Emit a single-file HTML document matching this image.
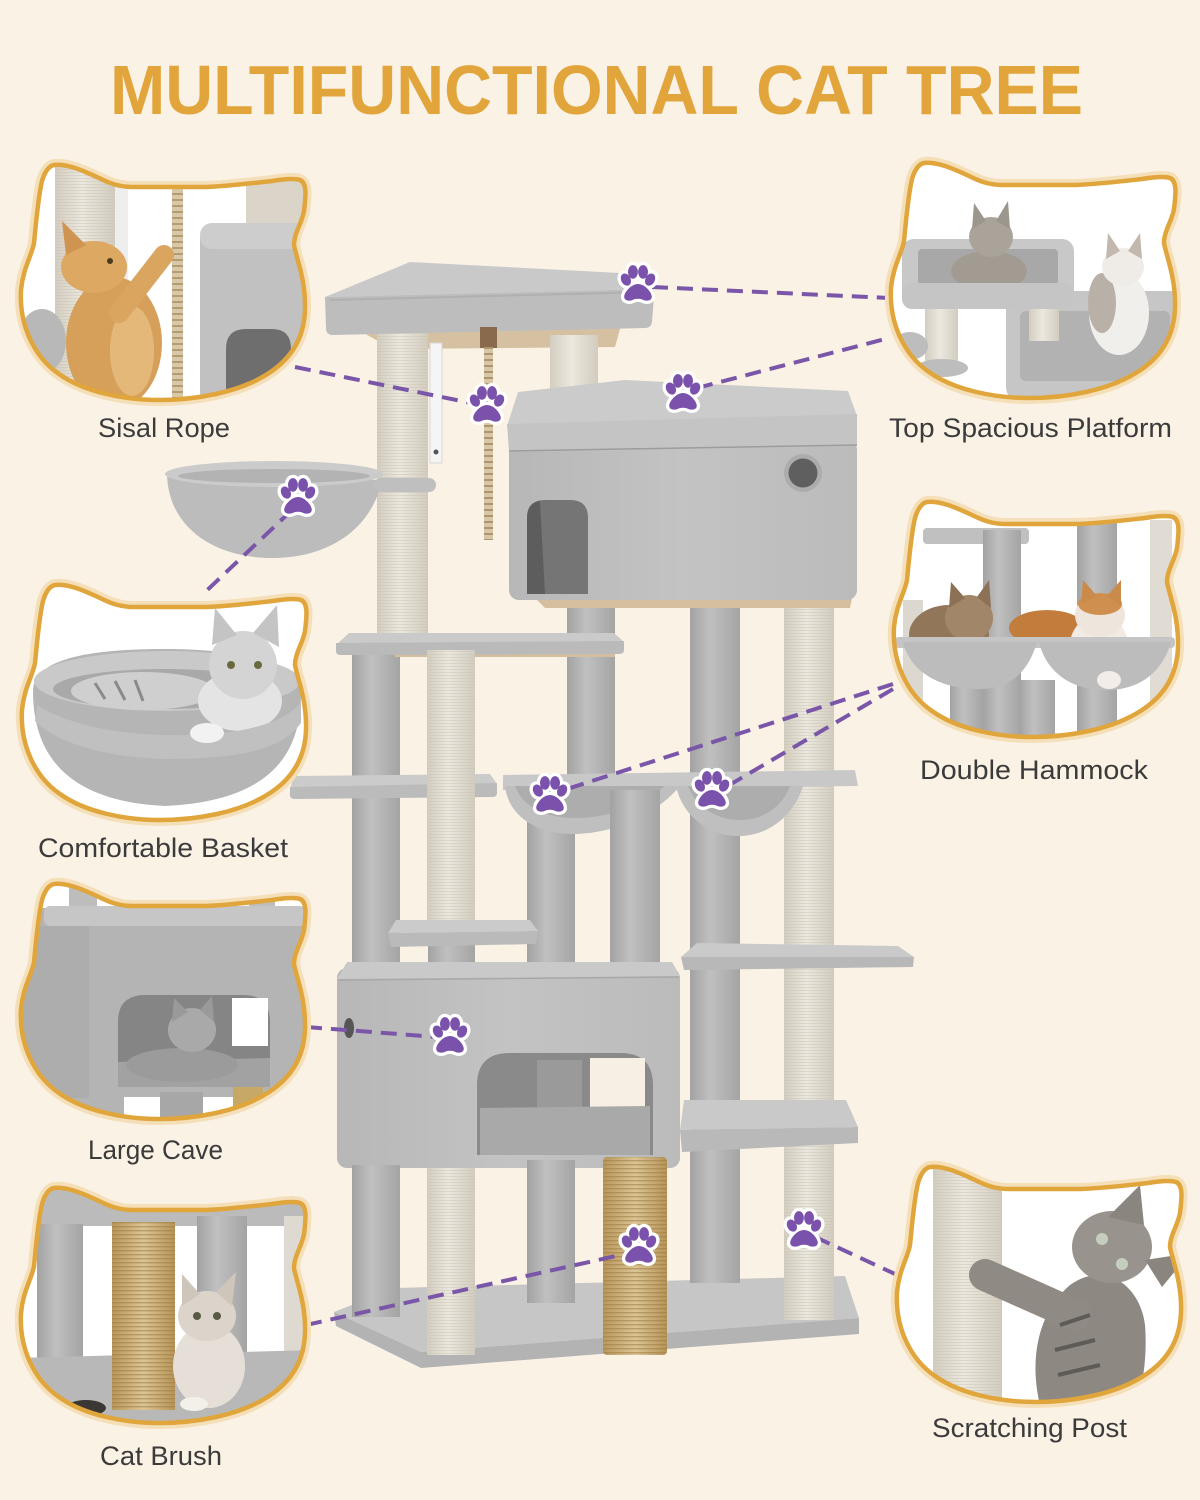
<!DOCTYPE html>
<html>
<head>
<meta charset="utf-8">
<style>
  html, body { margin:0; padding:0; background:#fbf2e6; }
  svg { display:block; }
</style>
</head>
<body>
<svg width="1200" height="1500" viewBox="0 0 1200 1500" xmlns="http://www.w3.org/2000/svg">
<defs>
  <linearGradient id="gp" x1="0" y1="0" x2="1" y2="0">
    <stop offset="0" stop-color="#a2a2a2"/>
    <stop offset="0.4" stop-color="#c0c0c0"/>
    <stop offset="1" stop-color="#a4a4a4"/>
  </linearGradient>
  <linearGradient id="sp" x1="0" y1="0" x2="1" y2="0">
    <stop offset="0" stop-color="#d3cdc0"/>
    <stop offset="0.45" stop-color="#ece8df"/>
    <stop offset="1" stop-color="#d2ccbf"/>
  </linearGradient>
  <linearGradient id="bg" x1="0" y1="0" x2="1" y2="0">
    <stop offset="0" stop-color="#b8975a"/>
    <stop offset="0.5" stop-color="#dcc596"/>
    <stop offset="1" stop-color="#b69458"/>
  </linearGradient>
  <linearGradient id="cb" x1="0" y1="0" x2="1" y2="0">
    <stop offset="0" stop-color="#b7b7b7"/>
    <stop offset="0.5" stop-color="#c3c3c3"/>
    <stop offset="1" stop-color="#bbbbbb"/>
  </linearGradient>
  <pattern id="sis" width="6" height="3" patternUnits="userSpaceOnUse">
    <rect width="6" height="1" fill="#c9c1b1" opacity="0.45"/>
  </pattern>
  <pattern id="spk" width="6" height="4" patternUnits="userSpaceOnUse">
    <rect width="6" height="1.4" fill="#9c7c42" opacity="0.55"/>
  </pattern>

  <path id="hp" d="M40,2 C52,0 70,8 85,15 C95,20 105,24 118,24 L192,24 C215,23 240,20 258,18 C270,16 280,15 286,17 C293,20 292,32 290,48 C288,60 280,70 280,82 C282,94 292,117 291,147 C290,177 275,197 255,210 C225,230 180,237 145,237 C110,237 70,229 45,211 C20,194 5,162 7,127 C9,105 18,92 20,80 C22,60 24,35 28,18 C31,8 35,3 40,2 Z"/>
  <clipPath id="hc"><use href="#hp"/></clipPath>

  <g id="pawshape">
    <ellipse cx="-11" cy="-4" rx="4.3" ry="5.8" transform="rotate(-28 -11 -4)"/>
    <ellipse cx="-4.6" cy="-11" rx="4.5" ry="6.2"/>
    <ellipse cx="4.6" cy="-11" rx="4.5" ry="6.2"/>
    <ellipse cx="11" cy="-4" rx="4.3" ry="5.8" transform="rotate(28 11 -4)"/>
    <path d="M0,0 C6,0 12,7 12.5,11 C13,15 8,16 5,14.5 C2,13 -2,13 -5,14.5 C-8,16 -13,15 -12.5,11 C-12,7 -6,0 0,0 Z"/>
  </g>
  <g id="paw">
    <use href="#pawshape" fill="#ffffff" stroke="#ffffff" stroke-width="6" stroke-linejoin="round"/>
    <use href="#pawshape" fill="#7b52ab"/>
  </g>
</defs>

<rect width="1200" height="1500" fill="#fbf2e6"/>

<!-- TITLE -->
<text x="110" y="114" font-family="'Liberation Sans', sans-serif" font-weight="bold" font-size="70" fill="#e1a53b" textLength="973" lengthAdjust="spacingAndGlyphs">MULTIFUNCTIONAL CAT TREE</text>

<!-- ===== CAT TREE ===== -->
<polygon points="334,1312 395,1288 845,1276 859,1318 421,1352" fill="#c6c6c6"/>
<polygon points="334,1312 421,1352 859,1318 859,1334 421,1368 336,1326" fill="#b3b3b3"/>

<rect x="690" y="600" width="50" height="683" fill="url(#gp)"/>
<rect x="784" y="600" width="50" height="720" fill="url(#sp)"/>
<rect x="784" y="600" width="50" height="720" fill="url(#sis)"/>
<rect x="567" y="600" width="48" height="185" fill="url(#gp)"/>

<polygon points="355,328 622,322 615,347 392,349" fill="#d5c1a2"/>
<rect x="550" y="335" width="48" height="75" fill="url(#sp)"/>
<rect x="377" y="330" width="51" height="310" fill="url(#sp)"/>
<rect x="377" y="330" width="51" height="310" fill="url(#sis)"/>
<polygon points="410,262 620,273 652,289 325,297" fill="#c9c9c9"/>
<path d="M325,297 L652,289 Q655,290 654,296 L652,322 Q651,328 645,328 L333,335 Q326,335 326,328 Z" fill="#bdbdbd"/>
<path d="M330,300 L650,292" stroke="#b0b0b0" stroke-width="2" fill="none"/>

<rect x="430" y="343" width="12" height="120" fill="#f5f5f5" stroke="#d6d6d6" stroke-width="1"/>
<circle cx="436" cy="452" r="2.5" fill="#555"/>
<rect x="480" y="327" width="17" height="21" fill="#8a6a4c"/>
<rect x="484" y="347" width="9" height="193" fill="#d7c7a6"/>
<line x1="488.5" y1="347" x2="488.5" y2="540" stroke="#ad9570" stroke-width="9" stroke-dasharray="2 4"/>

<polygon points="535,598 852,598 850,608 545,608" fill="#d4bf9f"/>
<rect x="509" y="440" width="348" height="160" rx="10" fill="url(#cb)"/>
<polygon points="518,392 625,380 848,391 857,416 507,426" fill="#cbcbcb"/>
<path d="M507,424 L857,414 L857,446 L509,452 Z" fill="#c4c4c4"/>
<path d="M509,451 L857,445" stroke="#9c9c9c" stroke-width="1.5" fill="none"/>
<path d="M527,594 L527,518 Q527,500 545,500 L570,500 Q588,500 588,518 L588,594 Z" fill="#757575"/>
<path d="M527,594 L527,518 Q527,503 540,501 L545,594 Z" fill="#5d5d5d"/>
<circle cx="803" cy="473" r="19" fill="#acacac"/>
<circle cx="803" cy="473" r="14.5" fill="#5f5f5f"/>

<path d="M167,474 C168,528 215,558 272,558 C330,558 372,528 382,480 Z" fill="#bcbcbc"/>
<ellipse cx="274" cy="474" rx="109" ry="13" fill="#cbcbcb"/>
<ellipse cx="274" cy="476" rx="96" ry="7" fill="#b3b3b3"/>
<rect x="374" y="478" width="62" height="14" rx="7" fill="#bfbfbf"/>

<rect x="352" y="650" width="48" height="315" fill="url(#gp)"/>

<rect x="395" y="652" width="220" height="5" fill="#d3bf9f"/>
<polygon points="349,633 614,633 624,642 336,645" fill="#cacaca"/>
<path d="M336,643 L624,641 L624,650 Q624,654 619,654 L341,655 Q336,655 336,651 Z" fill="#bababa"/>

<rect x="527" y="800" width="48" height="162" fill="url(#gp)"/>

<polygon points="294,776 490,774 497,784 290,789" fill="#cbcbcb"/>
<path d="M290,787 L497,783 L497,793 Q497,797 492,797 L295,799 Q289,799 290,793 Z" fill="#bbbbbb"/>
<polygon points="503,775 855,770 858,786 503,790" fill="#c8c8c8"/>
<path d="M505,786 C508,815 535,834 572,834 C620,834 660,810 680,786 Z" fill="#bfbfbf"/>
<path d="M515,786 C522,806 545,818 575,818 C615,818 645,802 665,786 Z" fill="#adadad"/>
<path d="M676,786 C682,815 708,836 738,836 C772,836 795,812 803,786 Z" fill="#bfbfbf"/>
<path d="M688,786 C695,805 715,820 740,820 C765,820 783,805 790,786 Z" fill="#adadad"/>

<rect x="427" y="650" width="48" height="275" fill="url(#sp)"/>
<rect x="427" y="650" width="48" height="275" fill="url(#sis)"/>
<rect x="610" y="790" width="50" height="175" fill="url(#gp)"/>

<polygon points="697,943 898,946 914,957 681,957" fill="#cacaca"/>
<polygon points="681,957 914,957 913,967 684,970" fill="#b8b8b8"/>

<rect x="428" y="944" width="47" height="26" fill="url(#gp)"/>
<polygon points="396,920 530,920 538,931 388,933" fill="#cbcbcb"/>
<polygon points="388,933 538,931 536,944 391,947" fill="#bababa"/>

<rect x="337" y="968" width="343" height="200" rx="10" fill="url(#cb)"/>
<polygon points="347,962 672,962 680,976 337,979" fill="#c9c9c9"/>
<path d="M338,980 L679,977" stroke="#a8a8a8" stroke-width="1.5"/>
<path d="M477,1155 L477,1085 Q477,1053 510,1053 L620,1053 Q653,1053 653,1085 L653,1155 Z" fill="#8a8a8a"/>
<rect x="590" y="1058" width="55" height="50" fill="#f7efe3"/>
<rect x="537" y="1060" width="45" height="48" fill="#9a9a9a"/>
<polygon points="480,1108 650,1106 650,1155 480,1155" fill="#a9a9a9"/>
<ellipse cx="349" cy="1028" rx="5" ry="10" fill="#555"/>

<polygon points="684,1100 846,1100 858,1127 680,1130" fill="#c9c9c9"/>
<polygon points="680,1130 858,1127 858,1143 682,1152" fill="#b9b9b9"/>

<rect x="352" y="1165" width="48" height="152" fill="url(#gp)"/>
<rect x="527" y="1160" width="48" height="143" fill="url(#gp)"/>
<rect x="427" y="1168" width="48" height="187" fill="url(#sp)"/>
<rect x="427" y="1168" width="48" height="187" fill="url(#sis)"/>
<rect x="603" y="1157" width="64" height="198" rx="4" fill="url(#bg)"/>
<rect x="603" y="1157" width="64" height="198" rx="4" fill="url(#spk)"/>

<!-- ===== DASHED LINES ===== -->
<g stroke="#7a56a8" stroke-width="4" stroke-dasharray="16 9" fill="none">
  <line x1="652" y1="287" x2="889" y2="298"/>
  <line x1="697" y1="388" x2="889" y2="338"/>
  <line x1="295" y1="367" x2="471" y2="403"/>
  <line x1="292" y1="510" x2="202" y2="595"/>
  <line x1="893" y1="684" x2="564" y2="790"/>
  <line x1="893" y1="689" x2="726" y2="787"/>
  <line x1="306" y1="1027" x2="437" y2="1037"/>
  <line x1="306" y1="1325" x2="625" y2="1254"/>
  <line x1="815" y1="1237" x2="895" y2="1274"/>
</g>

<use href="#paw" transform="translate(638,284) scale(1.1)"/>
<use href="#paw" transform="translate(683,393) scale(1.1)"/>
<use href="#paw" transform="translate(487,405) scale(1.1)"/>
<use href="#paw" transform="translate(298,497) scale(1.1)"/>
<use href="#paw" transform="translate(550,795) scale(1.1)"/>
<use href="#paw" transform="translate(712,790) scale(1.1)"/>
<use href="#paw" transform="translate(450,1036) scale(1.1)"/>
<use href="#paw" transform="translate(639,1246) scale(1.1)"/>
<use href="#paw" transform="translate(804,1230) scale(1.1)"/>

<!-- ===== FRAMES ===== -->
<g transform="translate(14,163)">
  <use href="#hp" fill="none" stroke="#f4dfb9" stroke-width="12"/>
  <use href="#hp" fill="#ffffff"/>
  <g clip-path="url(#hc)">
    <rect x="41" y="0" width="60" height="240" fill="url(#sp)"/>
    <rect x="41" y="0" width="60" height="240" fill="url(#sis)"/>
    <rect x="101" y="0" width="13" height="240" fill="#eeeeee"/>
    <rect x="158" y="18" width="11" height="222" fill="#d8c8a8"/>
    <line x1="163.5" y1="18" x2="163.5" y2="240" stroke="#b39b72" stroke-width="11" stroke-dasharray="2 4"/>
    <rect x="232" y="15" width="58" height="55" fill="#dbd5c9"/>
    <rect x="186" y="60" width="115" height="185" rx="16" fill="#c1c1c1"/>
    <rect x="186" y="60" width="115" height="26" rx="12" fill="#cdcdcd"/>
    <path d="M212,240 L212,186 Q212,166 232,166 L258,166 Q277,166 277,186 L277,240 Z" fill="#6e6e6e"/>
    <ellipse cx="28" cy="178" rx="24" ry="32" fill="#b8b8b8"/>
    <ellipse cx="100" cy="180" rx="48" ry="66" fill="#d6a05a"/>
    <ellipse cx="118" cy="188" rx="22" ry="45" fill="#e4b878"/>
    <path d="M105,150 L150,92" stroke="#d9a55f" stroke-width="20" stroke-linecap="round"/>
    <ellipse cx="80" cy="104" rx="33" ry="26" fill="#dca862"/>
    <polygon points="52,92 48,58 72,82" fill="#cf9550"/>
    <circle cx="96" cy="98" r="3" fill="#4a3a20"/>
  </g>
  <use href="#hp" fill="none" stroke="#e0a53b" stroke-width="4.5"/>
</g>

<g transform="translate(884,161)">
  <use href="#hp" fill="none" stroke="#f4dfb9" stroke-width="12"/>
  <use href="#hp" fill="#ffffff"/>
  <g clip-path="url(#hc)">
    <rect x="133" y="116" width="7" height="124" fill="#d9cbb0"/>
    <rect x="122" y="130" width="180" height="112" rx="16" fill="#c6c6c6"/>
    <rect x="136" y="150" width="150" height="70" rx="6" fill="#b2b2b2"/>
    <ellipse cx="235" cy="152" rx="30" ry="42" fill="#f1efec"/>
    <ellipse cx="218" cy="142" rx="14" ry="30" fill="#b9b1a8"/>
    <ellipse cx="239" cy="106" rx="21" ry="19" fill="#efece8"/>
    <polygon points="222,98 224,72 236,90" fill="#c2b8ad"/>
    <polygon points="244,90 256,72 258,98" fill="#c2b8ad"/>
    <rect x="41" y="140" width="33" height="70" fill="url(#sp)"/>
    <rect x="145" y="140" width="30" height="40" fill="url(#sp)"/>
    <ellipse cx="58" cy="207" rx="26" ry="9" fill="#bdbdbd"/>
    <ellipse cx="26" cy="185" rx="18" ry="14" fill="#bdbdbd"/>
    <rect x="18" y="78" width="172" height="70" rx="12" fill="#c8c8c8"/>
    <rect x="34" y="88" width="140" height="36" rx="4" fill="#a8a8a8"/>
    <ellipse cx="105" cy="110" rx="38" ry="20" fill="#a29b92"/>
    <ellipse cx="107" cy="76" rx="22" ry="20" fill="#aaa39a"/>
    <polygon points="88,68 90,42 102,60" fill="#9d968d"/>
    <polygon points="112,60 124,40 126,68" fill="#9d968d"/>
    <rect x="18" y="122" width="172" height="26" rx="10" fill="#c5c5c5"/>
  </g>
  <use href="#hp" fill="none" stroke="#e0a53b" stroke-width="4.5"/>
</g>

<g transform="translate(15,583)">
  <use href="#hp" fill="none" stroke="#f4dfb9" stroke-width="12"/>
  <use href="#hp" fill="#ffffff"/>
  <g clip-path="url(#hc)">
    <path d="M18,108 C18,72 90,66 150,66 C215,66 286,76 286,110 C286,165 262,218 150,223 C45,218 18,165 18,108 Z" fill="#b5b5b5"/>
    <ellipse cx="152" cy="98" rx="133" ry="30" fill="#c9c9c9"/>
    <ellipse cx="150" cy="106" rx="112" ry="20" fill="#a9a9a9"/>
    <ellipse cx="128" cy="108" rx="72" ry="19" fill="#cfcfcf"/>
    <path d="M80,100 L90,116 M100,98 L110,117 M120,97 L128,118" stroke="#8a8a8a" stroke-width="3"/>
    <ellipse cx="225" cy="118" rx="42" ry="30" fill="#e4e4e4"/>
    <ellipse cx="228" cy="82" rx="34" ry="34" fill="#d4d4d4"/>
    <polygon points="197,62 200,25 222,52" fill="#c4c4c4"/>
    <polygon points="238,50 262,22 264,64" fill="#c4c4c4"/>
    <circle cx="216" cy="82" r="4" fill="#6a6a40"/>
    <circle cx="243" cy="82" r="4" fill="#6a6a40"/>
    <path d="M22,122 C60,146 120,154 180,152 C230,150 268,140 286,120 L286,140 C266,168 220,176 150,176 C80,174 38,156 20,138 Z" fill="#c0c0c0"/>
    <ellipse cx="192" cy="150" rx="17" ry="10" fill="#f2f2f2"/>
  </g>
  <use href="#hp" fill="none" stroke="#e0a53b" stroke-width="4.5"/>
</g>

<g transform="translate(887,500)">
  <use href="#hp" fill="none" stroke="#f4dfb9" stroke-width="12"/>
  <use href="#hp" fill="#ffffff"/>
  <g clip-path="url(#hc)">
    <rect x="36" y="28" width="106" height="16" rx="4" fill="#c0c0c0"/>
    <rect x="16" y="100" width="20" height="100" fill="#dcd8d0"/>
    <rect x="96" y="30" width="38" height="215" fill="url(#gp)"/>
    <rect x="190" y="20" width="40" height="225" fill="url(#gp)"/>
    <rect x="263" y="20" width="22" height="200" fill="#e0dcd3"/>
    <rect x="63" y="180" width="33" height="65" fill="url(#gp)"/>
    <rect x="132" y="180" width="36" height="65" fill="url(#gp)"/>
    <ellipse cx="62" cy="135" rx="40" ry="30" fill="#927659"/>
    <ellipse cx="82" cy="118" rx="24" ry="23" fill="#a1866a"/>
    <polygon points="62,108 64,82 78,98" fill="#8d7155"/>
    <polygon points="90,97 102,80 104,108" fill="#8d7155"/>
    <ellipse cx="160" cy="128" rx="38" ry="18" fill="#c27d3c"/>
    <ellipse cx="212" cy="150" rx="30" ry="36" fill="#f1ebe4"/>
    <ellipse cx="213" cy="115" rx="25" ry="22" fill="#eee6dc"/>
    <ellipse cx="213" cy="104" rx="22" ry="11" fill="#cf8f4e"/>
    <polygon points="194,104 196,80 210,96" fill="#c98a4a"/>
    <polygon points="220,96 234,80 234,106" fill="#c98a4a"/>
    <rect x="8" y="137" width="280" height="11" rx="4" fill="#c5c5c5"/>
    <path d="M16,142 C24,176 60,190 95,189 C125,188 142,170 150,142 Z" fill="#bcbcbc"/>
    <path d="M152,142 C160,176 190,192 224,190 C256,188 276,170 284,142 Z" fill="#bcbcbc"/>
    <ellipse cx="222" cy="180" rx="12" ry="9" fill="#f2ede8"/>
  </g>
  <use href="#hp" fill="none" stroke="#e0a53b" stroke-width="4.5"/>
</g>

<g transform="translate(14,882)">
  <use href="#hp" fill="none" stroke="#f4dfb9" stroke-width="12"/>
  <use href="#hp" fill="#ffffff"/>
  <g clip-path="url(#hc)">
    <rect x="0" y="0" width="300" height="240" fill="#b4b4b4"/>
    <rect x="0" y="0" width="300" height="26" fill="#ffffff"/>
    <rect x="55" y="0" width="28" height="28" fill="#bdbdbd"/>
    <rect x="235" y="0" width="26" height="28" fill="#bdbdbd"/>
    <rect x="30" y="24" width="262" height="20" rx="6" fill="#c6c6c6"/>
    <rect x="0" y="44" width="75" height="172" fill="#adadad"/>
    <path d="M104,205 L104,140 Q104,113 131,113 L229,113 Q256,113 256,140 L256,205 Z" fill="#858585"/>
    <polygon points="104,180 256,176 256,205 104,205" fill="#a2a2a2"/>
    <rect x="218" y="116" width="36" height="48" fill="#ffffff"/>
    <ellipse cx="168" cy="183" rx="56" ry="17" fill="#9b9b9b"/>
    <ellipse cx="178" cy="148" rx="24" ry="22" fill="#a9a9a9"/>
    <polygon points="158,140 160,116 174,130" fill="#9a9a9a"/>
    <polygon points="186,128 198,114 200,140" fill="#9a9a9a"/>
    <rect x="110" y="215" width="190" height="30" fill="#ffffff"/>
    <rect x="146" y="210" width="43" height="32" fill="#a7a7a7"/>
    <rect x="219" y="205" width="30" height="37" fill="#c8a866"/>
  </g>
  <use href="#hp" fill="none" stroke="#e0a53b" stroke-width="4.5"/>
</g>

<g transform="translate(14,1186)">
  <use href="#hp" fill="none" stroke="#f4dfb9" stroke-width="12"/>
  <use href="#hp" fill="#ffffff"/>
  <g clip-path="url(#hc)">
    <rect x="0" y="0" width="300" height="40" fill="#bbbbbb"/>
    <rect x="23" y="38" width="46" height="140" fill="url(#gp)"/>
    <rect x="183" y="30" width="50" height="150" fill="url(#gp)"/>
    <rect x="270" y="30" width="30" height="150" fill="#dedad1"/>
    <path d="M0,172 L300,164 L300,245 L0,245 Z" fill="#b8b8b8"/>
    <rect x="98" y="36" width="63" height="188" fill="url(#bg)"/>
    <rect x="98" y="36" width="63" height="188" fill="url(#spk)"/>
    <ellipse cx="195" cy="180" rx="36" ry="42" fill="#e5dfd7"/>
    <ellipse cx="193" cy="130" rx="29" ry="25" fill="#dcd4ca"/>
    <polygon points="168,120 168,88 186,108" fill="#cfc6bb"/>
    <polygon points="202,106 222,86 218,120" fill="#cfc6bb"/>
    <circle cx="183" cy="130" r="4" fill="#5a5a44"/>
    <circle cx="203" cy="130" r="4" fill="#5a5a44"/>
    <ellipse cx="72" cy="222" rx="20" ry="8" fill="#3a3734"/>
    <ellipse cx="180" cy="218" rx="14" ry="7" fill="#f3efe9"/>
  </g>
  <use href="#hp" fill="none" stroke="#e0a53b" stroke-width="4.5"/>
</g>

<g transform="translate(890,1165)">
  <use href="#hp" fill="none" stroke="#f4dfb9" stroke-width="12"/>
  <use href="#hp" fill="#ffffff"/>
  <g clip-path="url(#hc)">
    <rect x="43" y="0" width="69" height="240" fill="url(#sp)"/>
    <rect x="43" y="0" width="69" height="240" fill="url(#sis)"/>
    <path d="M150,240 C140,200 145,150 180,120 C215,95 250,120 255,160 C258,200 250,230 245,240 Z" fill="#8d8882"/>
    <path d="M95,110 L185,150" stroke="#8f8a84" stroke-width="32" stroke-linecap="round"/>
    <ellipse cx="222" cy="82" rx="40" ry="36" fill="#98938d"/>
    <polygon points="218,52 250,20 254,60" fill="#8a857f"/>
    <polygon points="255,95 300,88 272,122" fill="#8a857f"/>
    <circle cx="212" cy="74" r="6" fill="#c5cdbd"/>
    <circle cx="232" cy="99" r="6" fill="#c5cdbd"/>
    <path d="M170,160 L200,150 M165,185 L205,175 M168,210 L210,200" stroke="#5e5a55" stroke-width="4"/>
  </g>
  <use href="#hp" fill="none" stroke="#e0a53b" stroke-width="4.5"/>
</g>

<!-- LABELS -->
<g font-family="'Liberation Sans', sans-serif" font-size="27" fill="#3b3b3b">
  <text x="98" y="437" textLength="132" lengthAdjust="spacingAndGlyphs">Sisal Rope</text>
  <text x="889" y="437" textLength="283" lengthAdjust="spacingAndGlyphs">Top Spacious Platform</text>
  <text x="38" y="857" textLength="250" lengthAdjust="spacingAndGlyphs">Comfortable Basket</text>
  <text x="920" y="779" textLength="228" lengthAdjust="spacingAndGlyphs">Double Hammock</text>
  <text x="88" y="1159" textLength="135" lengthAdjust="spacingAndGlyphs">Large Cave</text>
  <text x="100" y="1465" textLength="122" lengthAdjust="spacingAndGlyphs">Cat Brush</text>
  <text x="932" y="1437" textLength="195" lengthAdjust="spacingAndGlyphs">Scratching Post</text>
</g>
</svg>
</body>
</html>
